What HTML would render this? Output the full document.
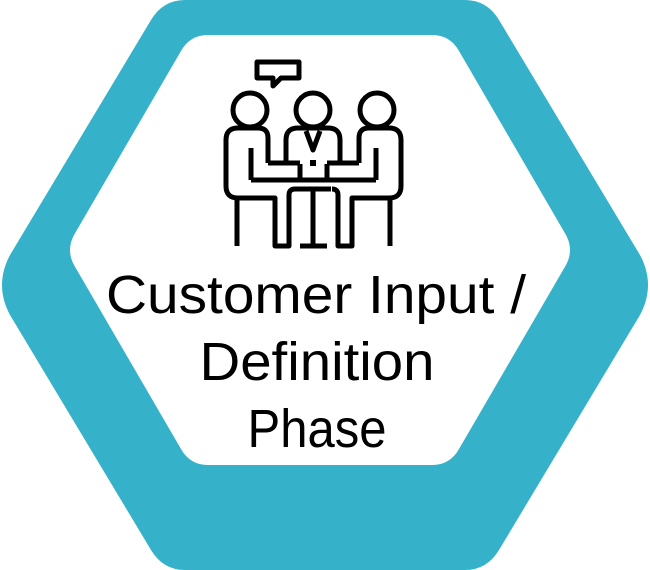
<!DOCTYPE html>
<html><head><meta charset="utf-8"><style>
html,body{margin:0;padding:0;background:#fff;}
svg{display:block;}
text{font-family:"Liberation Sans",sans-serif;fill:#000;}
</style></head><body>
<svg width="650" height="570" viewBox="0 0 650 570" xmlns="http://www.w3.org/2000/svg">
<path d="M151,20 Q163,0 185,0 L465,0 Q487,0 499,20 L640,255 Q656,285 640,315 L499,550 Q487,570 465,570 L185,570 Q163,570 151,550 L10,315 Q-6,285 10,255 Z" fill="#35b2c9"/>
<path d="M181,51 Q190,35 208,35 L432,35 Q450,35 459,51 L566,235 Q574,250 566,265 L459,449 Q450,465 432,465 L208,465 Q190,465 181,449 L74,265 Q66,250 74,235 Z" fill="#fff"/>
<g fill="none" stroke="#000" stroke-width="5" stroke-linejoin="round">
  <path d="M257,62 L299,62 L299,78 L281,78 L273,86 L273,78 L257,78 Z"/>
  <circle cx="313" cy="110" r="17"/>
  <path d="M286,163 L286,140 Q286,128 298,128 L328,128 Q340,128 340,140 L340,163"/>
  <path d="M306,131 L313,150 L320,131"/>
  <path d="M251,180 L376,180"/>
  <path d="M295,189 L331,189"/>
  <path d="M313,189 L313,246 M300,246 L327,246"/>
  <path d="M300,164 L300,178 M327,164 L327,178"/>
  <g id="p">
    <circle cx="250" cy="110" r="17"/>
    <path d="M268,163 L268,138 Q268,128 258,128 L238,128 Q226,128 226,140 L226,186 Q226,198 238,198 L275,198 L275,246 L289,246 L289,195 Q289,189 295,189"/>
    <path d="M251,148 L251,180"/>
    <path d="M268,163 L300,163"/>
    <path d="M237,198 L237,246"/>
  </g>
  <use href="#p" transform="translate(627,0) scale(-1,1)"/>
</g>
<rect x="310" y="160" width="6" height="6" fill="#000"/>
<text x="316" y="313" font-size="54" text-anchor="middle" textLength="420" lengthAdjust="spacingAndGlyphs">Customer Input /</text>
<text x="317" y="380" font-size="54" text-anchor="middle" textLength="235" lengthAdjust="spacingAndGlyphs">Definition</text>
<text x="317" y="447" font-size="54" text-anchor="middle" textLength="139" lengthAdjust="spacingAndGlyphs">Phase</text>
</svg>
</body></html>
